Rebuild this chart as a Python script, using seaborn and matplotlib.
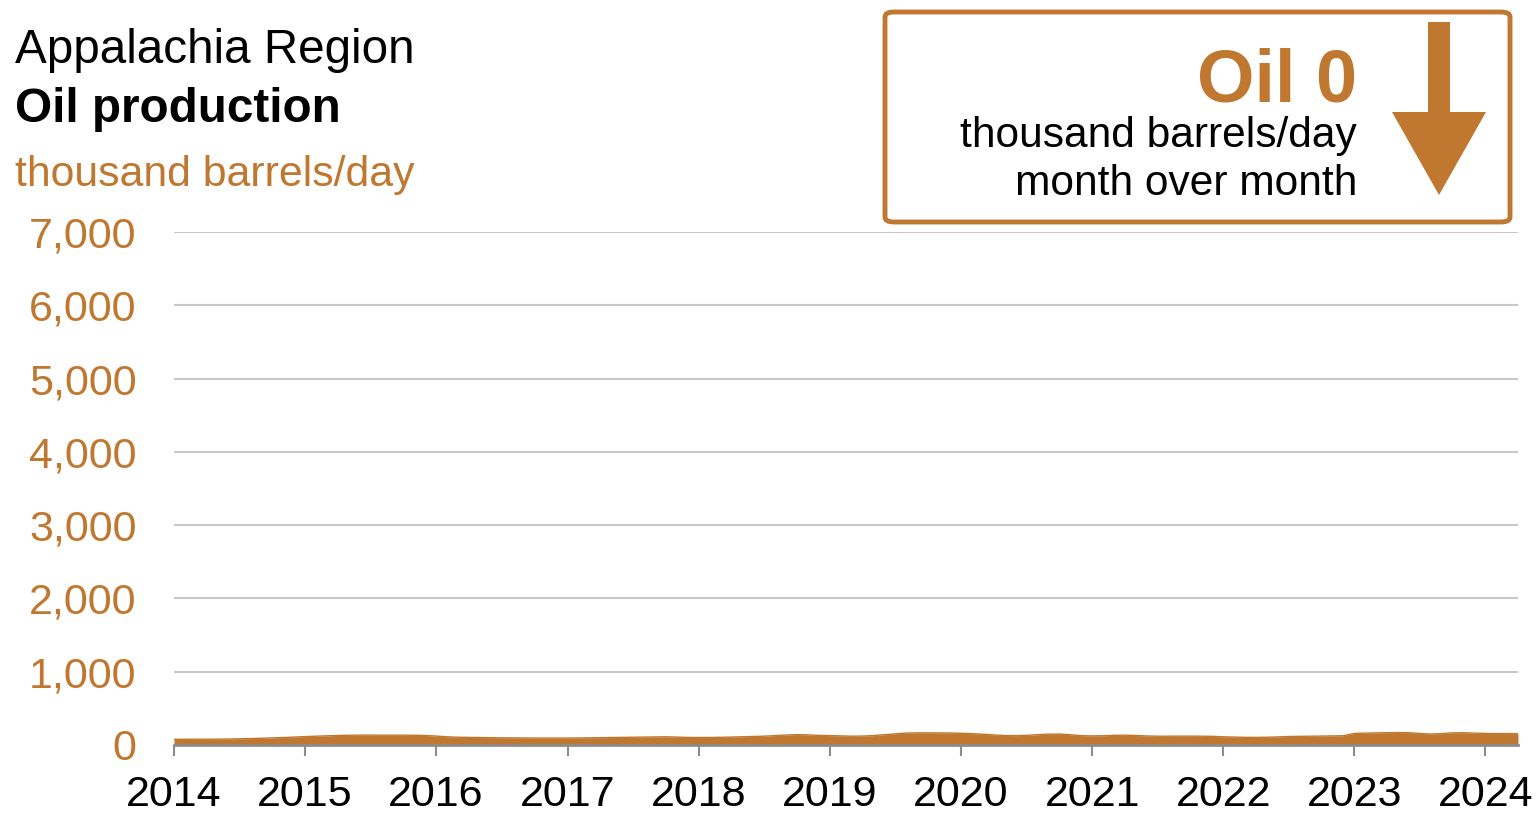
import numpy as np
import pandas as pd
import matplotlib
matplotlib.use("Agg")
import matplotlib.pyplot as plt
import matplotlib.dates as mdates
from matplotlib.patches import FancyBboxPatch, FancyArrow
import seaborn as sns

# ---- data (thousand barrels/day, monthly Jan 2014 - Apr 2024) ----
start_month = "2014-01-01"
production = [
    78, 78, 79, 79, 80, 82, 85, 88, 92, 97, 102, 108,          # 2014
    115, 120, 125, 130, 133, 135, 135, 134, 134, 134, 133, 130,  # 2015
    122, 112, 106, 104, 102, 100, 98, 97, 96, 95, 95, 95,        # 2016
    95, 96, 98, 100, 102, 104, 106, 108, 110, 112, 108, 104,     # 2017
    102, 103, 105, 108, 112, 116, 120, 128, 136, 142, 138, 132,  # 2018
    128, 124, 120, 122, 128, 140, 152, 162, 166, 166, 165, 164,  # 2019
    160, 155, 148, 138, 130, 128, 132, 140, 148, 150, 140, 128,  # 2020
    124, 126, 132, 134, 130, 124, 120, 120, 121, 121, 120, 118,  # 2021
    112, 108, 105, 104, 106, 110, 116, 118, 120, 122, 124, 126,  # 2022
    158, 162, 165, 168, 170, 168, 158, 150, 156, 166, 168, 162,  # 2023
    158, 156, 156, 155,                                          # 2024
]
y_ticks = [0, 1000, 2000, 3000, 4000, 5000, 6000, 7000]
y_tick_labels = ["0", "1,000", "2,000", "3,000", "4,000", "5,000", "6,000", "7,000"]
x_tick_years = list(range(2014, 2025))
title_region = "Appalachia Region"
title_main = "Oil production"
unit_label = "thousand barrels/day"
box_value = "Oil 0"
box_line1 = "thousand barrels/day"
box_line2 = "month over month"

ORANGE = "#C0772F"
GRID = "#C8C8C8"
AXIS_GRAY = "#8C8C8C"

dates = pd.date_range(start_month, periods=len(production), freq="MS")
df = pd.DataFrame({"date": dates, "value": production})

sns.set_theme(style="white")
plt.rcParams["font.family"] = ["Liberation Sans", "DejaVu Sans"]

W, H = 1537, 816
fig = plt.figure(figsize=(W / 100, H / 100), dpi=100)
ax = fig.add_axes([174 / W, 1 - 745 / H, (1518 - 174) / W, (745 - 232) / H])

ax.fill_between(df["date"], 0, df["value"], color=ORANGE, linewidth=0, zorder=3)
sns.lineplot(data=df, x="date", y="value", ax=ax, color=ORANGE, linewidth=1.0, zorder=4)

ax.set_xlim(dates[0], dates[-1])
ax.set_ylim(0, 7000)
ax.set_yticks(y_ticks)
ax.set_yticklabels(y_tick_labels)
ax.set_xticks([pd.Timestamp(f"{y}-01-01") for y in x_tick_years])
ax.set_xticklabels([str(y) for y in x_tick_years])
ax.set_xlabel("")
ax.set_ylabel("")

for v in y_ticks[1:]:
    ax.axhline(v, color=GRID, linewidth=1.5, zorder=1)

for s in ["top", "right", "left"]:
    ax.spines[s].set_visible(False)
ax.spines["bottom"].set_color(AXIS_GRAY)
ax.spines["bottom"].set_linewidth(2)
ax.spines["bottom"].set_zorder(5)

ax.tick_params(axis="y", length=0, pad=27, labelsize=31, labelcolor=ORANGE)
ax.tick_params(axis="x", length=8, width=1.5, color=AXIS_GRAY, direction="out",
               pad=13.5, labelsize=31, labelcolor="black", bottom=True)

# titles
fig.text(15 / W, 1 - 63 / H, title_region, fontsize=34.3, color="black",
         ha="left", va="baseline")
fig.text(15 / W, 1 - 122 / H, title_main, fontsize=34.3, color="black",
         fontweight="bold", ha="left", va="baseline")
fig.text(15 / W, 1 - 186 / H, unit_label, fontsize=30.8, color=ORANGE,
         ha="left", va="baseline")

# summary box
box = FancyBboxPatch((885 / W, 1 - 222 / H), (1510 - 885) / W, (222 - 12) / H,
                     boxstyle="round,pad=0,rounding_size=0.006",
                     transform=fig.transFigure, facecolor="white",
                     edgecolor=ORANGE, linewidth=3.5, zorder=10)
fig.add_artist(box)
fig.text(1357 / W, 1 - 102 / H, box_value, fontsize=53.3, fontweight="bold",
         color=ORANGE, ha="right", va="baseline", zorder=11)
fig.text(1357 / W, 1 - 147 / H, box_line1, fontsize=30.6, color="black",
         ha="right", va="baseline", zorder=11)
fig.text(1357 / W, 1 - 195 / H, box_line2, fontsize=30.6, color="black",
         ha="right", va="baseline", zorder=11)

# down arrow
arrow_x = 1439 / W
arrow_top = 1 - 22 / H
arrow_tip = 1 - 195 / H
head_len = (195 - 112) / H
arr = FancyArrow(arrow_x, arrow_top, 0, arrow_tip - arrow_top,
                 width=22 / W, head_width=94 / W, head_length=head_len,
                 length_includes_head=True, transform=fig.transFigure,
                 color=ORANGE, linewidth=0, zorder=11)
fig.add_artist(arr)

fig.savefig("out.png", dpi=100)
